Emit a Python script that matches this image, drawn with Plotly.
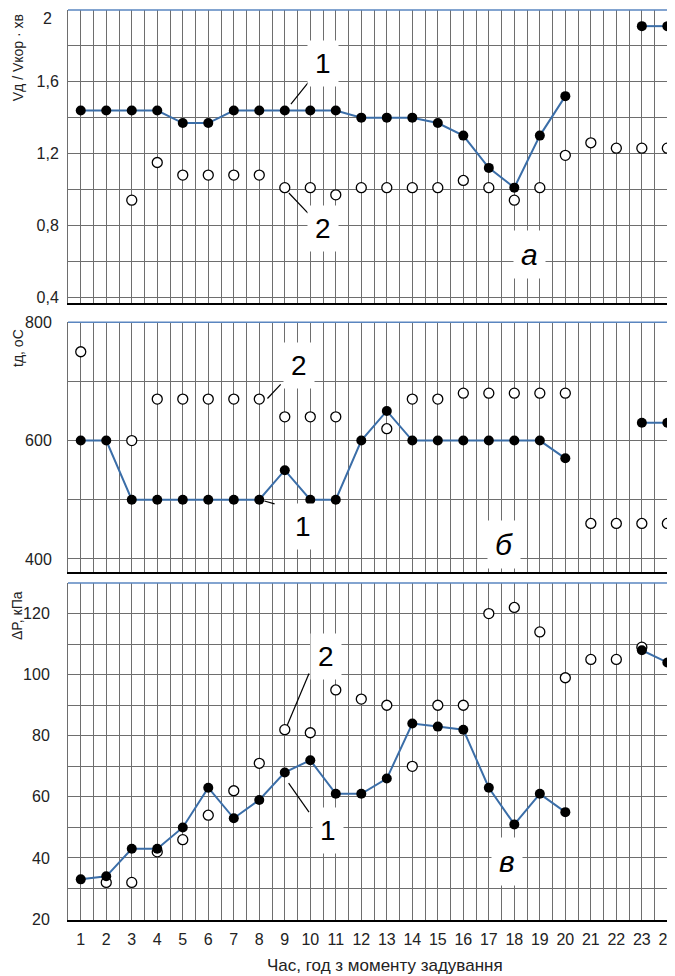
import plotly.graph_objects as go
from plotly.subplots import make_subplots

hours = list(range(1, 25))
hour_labels = [str(h) for h in hours]

# Panel а: Vд / Vкор·хв
a_series1 = [1.44, 1.44, 1.44, 1.44, 1.37, 1.37, 1.44, 1.44, 1.44, 1.44, 1.44, 1.40,
             1.40, 1.40, 1.37, 1.30, 1.12, 1.01, 1.30, 1.52, None, None, 1.91, 1.91]
a_series2 = [None, None, 0.94, 1.15, 1.08, 1.08, 1.08, 1.08, 1.01, 1.01, 0.97, 1.01,
             1.01, 1.01, 1.01, 1.05, 1.01, 0.94, 1.01, 1.19, 1.26, 1.23, 1.23, 1.23]

# Panel б: tд, оС
b_series1 = [600, 600, 500, 500, 500, 500, 500, 500, 550, 500, 500, 600,
             650, 600, 600, 600, 600, 600, 600, 570, None, None, 630, 630]
b_series2 = [750, None, 600, 670, 670, 670, 670, 670, 640, 640, 640, None,
             620, 670, 670, 680, 680, 680, 680, 680, 460, 460, 460, 460]

# Panel в: ΔP, кПа
c_series1 = [33, 34, 43, 43, 50, 63, 53, 59, 68, 72, 61, 61,
             66, 84, 83, 82, 63, 51, 61, 55, None, None, 108, 104]
c_series2 = [None, 32, 32, 42, 46, 54, 62, 71, 82, 81, 95, 92,
             90, 70, 90, 90, 120, 122, 114, 99, 105, 105, 109, None]

a_ticks = [0.4, 0.8, 1.2, 1.6]
a_ticktext = ["0,4", "0,8", "1,2", "1,6"]
a_top_label = "2"
b_ticks = [400, 600, 800]
c_ticks = [20, 40, 60, 80, 100, 120]

LINE = "#3b6ea8"
GRID = "#6e6e6e"
FONT = "Liberation Sans, Arial, sans-serif"
NARROW = "Liberation Sans Narrow, Arial Narrow, Liberation Sans, sans-serif"

fig = make_subplots(rows=3, cols=1, shared_xaxes=True)

for row, s1, s2 in [(1, a_series1, a_series2), (2, b_series1, b_series2), (3, c_series1, c_series2)]:
    fig.add_trace(go.Scatter(x=hours, y=s2, mode="markers",
                             marker=dict(symbol="circle", size=10, color="white",
                                         line=dict(color="black", width=1.3)),
                             showlegend=False, hoverinfo="skip"), row=row, col=1)
    fig.add_trace(go.Scatter(x=hours, y=s1, mode="lines+markers", connectgaps=False,
                             line=dict(color=LINE, width=2),
                             marker=dict(symbol="circle", size=10, color="black"),
                             showlegend=False, hoverinfo="skip"), row=row, col=1)

xcommon = dict(range=[0.5, 24.3], tickmode="array", tickvals=hours, ticktext=hour_labels,
               showgrid=True, gridcolor=GRID, gridwidth=1, zeroline=False, automargin=False,
               minor=dict(tickmode="linear", tick0=0.5, dtick=0.5, showgrid=True,
                          gridcolor=GRID, gridwidth=1),
               showline=True, linecolor="black", linewidth=2, ticks="",
               ticklabeloverflow="allow",
               tickfont=dict(family=NARROW, size=16, color="#222"))
for i in (1, 2, 3):
    fig.update_xaxes(xcommon, row=i, col=1)
fig.update_xaxes(ticklabelstandoff=4, row=3, col=1)

ycommon = dict(showgrid=True, gridcolor=GRID, gridwidth=1, zeroline=False, ticks="",
               showline=True, linecolor=GRID, linewidth=1, automargin=False,
               tickfont=dict(family=FONT, size=16, color="#222"))
fig.update_yaxes(ycommon, row=1, col=1)
fig.update_yaxes(ycommon, row=2, col=1)
fig.update_yaxes(ycommon, row=3, col=1)
fig.update_yaxes(range=[0.367, 2.0], tickmode="array", tickvals=a_ticks, ticktext=a_ticktext,
                 minor=dict(tickmode="linear", tick0=0.4, dtick=0.2, showgrid=True, gridcolor=GRID),
                 ticklabelstandoff=5, domain=[0.678, 1.0], row=1, col=1)
fig.update_yaxes(range=[378, 800], tickmode="array", tickvals=b_ticks,
                 ticktext=[str(v) for v in b_ticks],
                 minor=dict(tickmode="linear", tick0=400, dtick=100, showgrid=True, gridcolor=GRID),
                 ticklabelstandoff=12, domain=[0.3824, 0.657], row=2, col=1)
fig.update_yaxes(range=[19.7, 130], tickmode="array", tickvals=c_ticks,
                 ticktext=[str(v) for v in c_ticks],
                 minor=dict(tickmode="linear", tick0=20, dtick=10, showgrid=True, gridcolor=GRID),
                 ticklabelstandoff=14, domain=[0.0, 0.3703], row=3, col=1)

shapes = []
for yd in ("y domain", "y2 domain", "y3 domain"):
    shapes.append(dict(type="line", xref="paper", x0=0, x1=1, yref=yd, y0=1, y1=1,
                       line=dict(color="#5a86c0", width=1.5)))

def leader(xr, yr, x0, y0, x1, y1):
    shapes.append(dict(type="line", xref=xr, yref=yr, x0=x0, y0=y0, x1=x1, y1=y1,
                       line=dict(color="black", width=1.2)))

leader("x", "y", 9.24, 1.476, 9.94, 1.599)
leader("x", "y", 9.16, 0.98, 9.91, 0.868)
leader("x2", "y2", 8.32, 671, 8.84, 695)
leader("x2", "y2", 8.2, 498, 8.6, 493)
leader("x3", "y3", 9.1, 83.5, 9.95, 100.4)
leader("x3", "y3", 9.15, 64.5, 9.95, 55)

annotations = []
def label(xr, yr, x, y, text, italic=False, size=28):
    annotations.append(dict(xref=xr, yref=yr, x=x, y=y, text=text, showarrow=False,
                            font=dict(family=FONT, size=size, color="black",
                                      style="italic" if italic else "normal"),
                            bgcolor="white", borderpad=7))

label("x", "y", 10.5, 1.70, "1")
label("x", "y", 10.5, 0.78, "2")
label("x", "y", 18.6, 0.64, "а", italic=True, size=30)
label("x2", "y2", 9.57, 727, "2")
label("x2", "y2", 9.7, 455, "1")
label("x2", "y2", 17.6, 425, "б", italic=True, size=30)
label("x3", "y3", 10.6, 106, "2")
label("x3", "y3", 10.7, 49, "1")
label("x3", "y3", 17.7, 39, "в", italic=True, size=30)

# top tick label of panel а (kept inside the page so it is not clipped)
annotations.append(dict(xref="paper", yref="paper", x=0, xshift=-14, xanchor="right",
                        y=1.0, yanchor="top", yshift=2, text=a_top_label, showarrow=False,
                        font=dict(family=FONT, size=16, color="#222")))

# Axis titles
for txt, yy, xs in [("Vд / Vкор · хв", 0.947, -50), ("tд, оС", 0.6286, -50), ("ΔP, кПа", 0.334, -51)]:
    annotations.append(dict(xref="paper", yref="paper", x=0, xshift=xs, xanchor="center",
                            y=yy, yanchor="middle", text=txt, textangle=-90, showarrow=False,
                            font=dict(family=FONT, size=14, color="#222")))
annotations.append(dict(xref="paper", yref="paper", x=0.522, y=-0.0505, yanchor="middle",
                        xanchor="center", text="Час, год з моменту задування", showarrow=False,
                        font=dict(family=NARROW, size=17, color="#222")))

# page body has an 8px default margin; size the figure so the plot area lands where the reference has it
fig.update_layout(width=667, height=968, margin=dict(l=60, r=0, t=2, b=56, autoexpand=False),
                  plot_bgcolor="white", paper_bgcolor="white",
                  shapes=shapes, annotations=annotations, showlegend=False)

fig.write_html("out.html")
